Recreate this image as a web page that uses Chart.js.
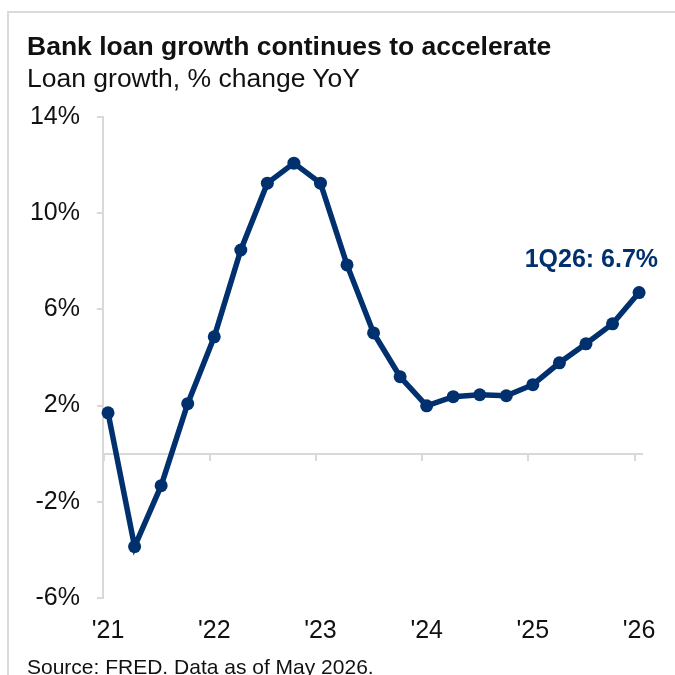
<!DOCTYPE html>
<html>
<head>
<meta charset="utf-8">
<script src="https://cdn.jsdelivr.net/npm/chart.js@4.4.1/dist/chart.umd.min.js"></script>
<style>
  html, body { margin: 0; padding: 0; background: #fff; overflow: hidden; }
  body { width: 675px; height: 675px; position: relative; font-family: "Liberation Sans", Arial, sans-serif; color: #111; }
  #frame { position: absolute; left: 7px; top: 11px; width: 800px; height: 800px; border-left: 2px solid #dadada; border-top: 2px solid #dadada; }
  #wrap { position: absolute; left: 0; top: 0; width: 675px; height: 675px; }
  .txt { position: absolute; left: 27px; white-space: nowrap; }
  #title { top: 33px; font-size: 26.5px; line-height: 26.5px; font-weight: bold; }
  #subtitle { top: 65px; font-size: 26.5px; line-height: 26.5px; }
  #source { top: 656px; font-size: 21px; line-height: 21px; }
</style>
</head>
<body>
<div id="frame"></div>
<div id="wrap"><canvas id="loanChart" width="675" height="675"></canvas></div>
<div class="txt" id="title">Bank loan growth continues to accelerate</div>
<div class="txt" id="subtitle">Loan growth, % change YoY</div>
<div class="txt" id="source">Source: FRED. Data as of May 2026.</div>
<script>
// quarterly loan growth, % YoY
var quarters = ["1Q21", "2Q21", "3Q21", "4Q21", "1Q22", "2Q22", "3Q22", "4Q22",
  "1Q23", "2Q23", "3Q23", "4Q23", "1Q24", "2Q24", "3Q24", "4Q24",
  "1Q25", "2Q25", "3Q25", "4Q25", "1Q26"];
var loanGrowth = [1.7, -3.86, -1.33, 2.08, 4.86, 8.47, 11.25, 12.08,
  11.25, 7.85, 5.02, 3.2, 1.99, 2.37, 2.45, 2.41,
  2.87, 3.78, 4.57, 5.4, 6.7];
// year labels sit under the first quarter of each year
var yearIndex = [0, 4, 8, 12, 16, 20];
var yearLabels = ["'21", "'22", "'23", "'24", "'25", "'26"];
var yTicks = [-6, -2, 2, 6, 10, 14];

var navy = "#00316e";
var axisGrey = "#d9d9d9";
var font = "'Liberation Sans', Arial, sans-serif";

// label the latest reading above the last point
var lastLabel = {
  id: "lastLabel",
  afterDatasetsDraw: function (chart) {
    var meta = chart.getDatasetMeta(0);
    var i = meta.data.length - 1;
    var pt = meta.data[i];
    var ctx = chart.ctx;
    ctx.save();
    ctx.font = "bold 25px " + font;
    ctx.fillStyle = navy;
    ctx.textAlign = "right";
    ctx.textBaseline = "alphabetic";
    ctx.fillText(quarters[i] + ": " + loanGrowth[i].toFixed(1) + "%", pt.x + 19, pt.y - 26);
    ctx.restore();
  }
};

var ctx = document.getElementById("loanChart").getContext("2d");
var myChart = new Chart(ctx, {
  type: "line",
  data: {
    labels: quarters,
    datasets: [{
      data: loanGrowth.map(function (v, i) { return { x: i, y: v }; }),
      borderColor: navy,
      backgroundColor: navy,
      borderWidth: 5.5,
      pointRadius: 6.5,
      pointBackgroundColor: navy,
      pointBorderWidth: 0,
      tension: 0,
      clip: false
    }]
  },
  plugins: [lastLabel],
  options: {
    responsive: false,
    animation: false,
    layout: { padding: { top: 117, right: 33, bottom: 0, left: 0 } },
    plugins: { legend: { display: false }, tooltip: { enabled: false } },
    scales: {
      x: {
        type: "linear",
        position: "bottom",
        min: -0.19,
        max: 20.11,
        afterBuildTicks: function (s) { s.ticks = yearIndex.map(function (v) { return { value: v }; }); },
        afterFit: function (s) { s.height = 77; },
        border: { display: false },
        grid: { display: false, drawTicks: false },
        ticks: {
          padding: 18,
          maxRotation: 0,
          autoSkip: false,
          color: "#111",
          font: { family: font, size: 25 },
          callback: function (v) { return yearLabels[yearIndex.indexOf(v)]; }
        }
      },
      // zero line with year tick marks
      x0: {
        type: "linear",
        position: { y: 0 },
        min: -0.19,
        max: 20.11,
        afterBuildTicks: function (s) { s.ticks = yearIndex.map(function (v) { return { value: v - 0.17 }; }); },
        border: { display: true, color: axisGrey, width: 2 },
        grid: { drawOnChartArea: false, drawTicks: true, tickLength: 6, color: axisGrey, lineWidth: 2 },
        ticks: { display: false }
      },
      y: {
        min: -6,
        max: 14,
        afterBuildTicks: function (s) { s.ticks = yTicks.map(function (v) { return { value: v }; }); },
        afterFit: function (s) { s.width = 103; },
        border: { display: true, color: axisGrey, width: 2 },
        grid: { drawOnChartArea: false, drawTicks: true, tickLength: 6, color: axisGrey, lineWidth: 2 },
        ticks: {
          padding: 17,
          color: "#111",
          font: { family: font, size: 25 },
          callback: function (v) { return v + "%"; }
        }
      }
    }
  }
});
</script>
</body>
</html>
